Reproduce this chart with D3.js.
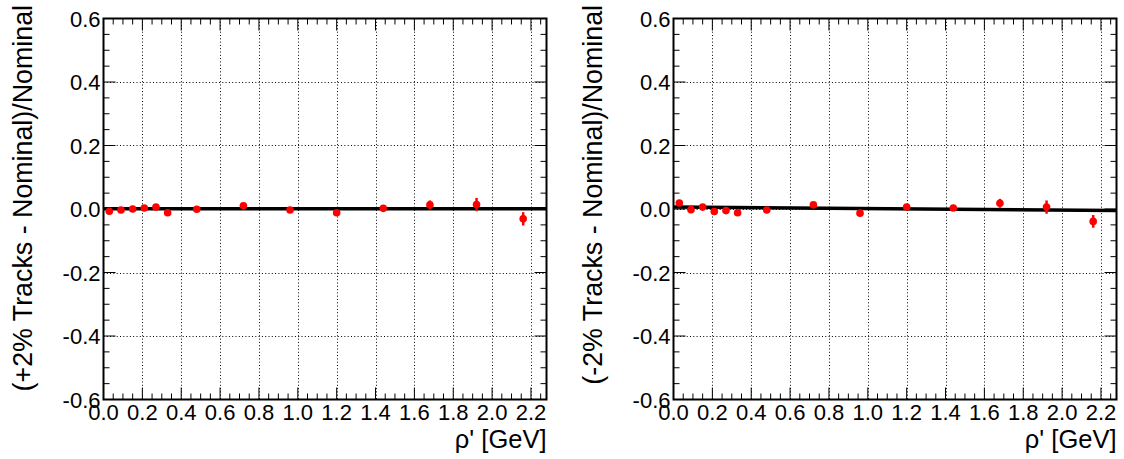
<!DOCTYPE html>
<html>
<head>
<meta charset="utf-8">
<script src="https://cdn.jsdelivr.net/npm/d3@7"></script>
<style>
  html, body { margin: 0; padding: 0; background: #fff; }
  svg { display: block; font-family: "Liberation Sans", Arial, sans-serif; }
</style>
</head>
<body>
<svg id="chart" width="1124" height="459"></svg>
<script>
// Bin centres of rho' (GeV)
const binCenters = [0.03, 0.09, 0.15, 0.21, 0.27, 0.33, 0.48, 0.72, 0.96, 1.20, 1.44, 1.68, 1.92, 2.16];

// +2% tracks variation: relative difference and uncertainty
const plusValues = [-0.007, -0.003, 0.000, 0.003, 0.006, -0.012, -0.001, 0.010, -0.003, -0.012, 0.002, 0.013, 0.014, -0.031];
const plusErrors = [0.004, 0.004, 0.004, 0.004, 0.005, 0.005, 0.004, 0.005, 0.005, 0.006, 0.008, 0.014, 0.021, 0.021];

// -2% tracks variation: relative difference and uncertainty
const minusValues = [0.019, -0.002, 0.006, -0.008, -0.005, -0.012, -0.003, 0.013, -0.013, 0.006, 0.003, 0.018, 0.006, -0.039];
const minusErrors = [0.005, 0.004, 0.004, 0.004, 0.005, 0.005, 0.004, 0.005, 0.005, 0.006, 0.008, 0.014, 0.021, 0.020];

// Linear fits: value at each end of the x range
const fitEnds = [0, 2.28];
const plusFit = [0.001, 0.0005];
const minusFit = [0.006, -0.005];

// Axis ticks
const xMajorTicks = [0.0, 0.2, 0.4, 0.6, 0.8, 1.0, 1.2, 1.4, 1.6, 1.8, 2.0, 2.2];
const yMajorTicks = [-0.6, -0.4, -0.2, 0.0, 0.2, 0.4, 0.6];

const xDomain = [0, 2.28];
const yDomain = [-0.6, 0.6];

const svg = d3.select("#chart");

const panels = [
  { left: 103.5, title: "(+2% Tracks - Nominal)/Nominal", values: plusValues, errors: plusErrors, fit: plusFit },
  { left: 673.5, title: "(-2% Tracks - Nominal)/Nominal", values: minusValues, errors: minusErrors, fit: minusFit }
];

const plotW = 443, plotTop = 18.5, plotBottom = 399.5;

panels.forEach(p => {
  const x = d3.scaleLinear().domain(xDomain).range([p.left, p.left + plotW]);
  const y = d3.scaleLinear().domain(yDomain).range([plotBottom, plotTop]);
  const g = svg.append("g");

  // dotted grid at major ticks
  g.append("g").selectAll("line").data(xMajorTicks.filter(v => v > 0)).join("line")
    .attr("x1", d => Math.round(x(d)) + 0.5).attr("x2", d => Math.round(x(d)) + 0.5)
    .attr("y1", plotTop).attr("y2", plotBottom)
    .attr("stroke", "#000").attr("stroke-width", 1).attr("stroke-dasharray", "1,2.3");
  g.append("g").selectAll("line").data(yMajorTicks.filter(v => v > -0.6 && v < 0.6)).join("line")
    .attr("x1", p.left).attr("x2", p.left + plotW)
    .attr("y1", d => Math.round(y(d)) + 0.5).attr("y2", d => Math.round(y(d)) + 0.5)
    .attr("stroke", "#000").attr("stroke-width", 1).attr("stroke-dasharray", "1,2.3");

  // inward ticks on all four sides
  const xMinor = d3.range(0, 2.2801, 0.05);
  const yMinor = d3.range(-0.6, 0.6001, 0.05);
  const isMajor = (v, list) => list.some(t => Math.abs(t - v) < 1e-6);
  const tickG = g.append("g").attr("stroke", "#000").attr("stroke-width", 1);
  xMinor.forEach(v => {
    const len = isMajor(v, xMajorTicks) ? 12 : 6;
    const px = x(v);
    tickG.append("line").attr("x1", px).attr("x2", px).attr("y1", plotBottom).attr("y2", plotBottom - len);
    tickG.append("line").attr("x1", px).attr("x2", px).attr("y1", plotTop).attr("y2", plotTop + len);
  });
  yMinor.forEach(v => {
    const len = isMajor(v, yMajorTicks) ? 12 : 6;
    const py = y(v);
    tickG.append("line").attr("x1", p.left).attr("x2", p.left + len).attr("y1", py).attr("y2", py);
    tickG.append("line").attr("x1", p.left + plotW).attr("x2", p.left + plotW - len).attr("y1", py).attr("y2", py);
  });

  // frame
  g.append("rect").attr("x", p.left).attr("y", plotTop).attr("width", plotW).attr("height", plotBottom - plotTop)
    .attr("fill", "none").attr("stroke", "#000").attr("stroke-width", 2);

  // tick labels
  g.append("g").selectAll("text").data(xMajorTicks).join("text")
    .attr("x", d => x(d)).attr("y", plotBottom + 20)
    .attr("text-anchor", "middle").attr("font-size", 22).attr("fill", "#000")
    .text(d => d3.format(".1f")(d));
  g.append("g").selectAll("text").data(yMajorTicks).join("text")
    .attr("x", p.left - 3).attr("y", d => y(d) + 8)
    .attr("text-anchor", "end").attr("font-size", 22).attr("fill", "#000")
    .text(d => d3.format(".1f")(d).replace("−", "-"));

  // axis titles
  g.append("text").attr("x", p.left + plotW).attr("y", plotBottom + 48)
    .attr("text-anchor", "end").attr("font-size", 25.5).attr("fill", "#000")
    .text("ρ' [GeV]");
  g.append("text")
    .attr("transform", `translate(${p.left - 72},${plotTop - 13.5}) rotate(-90)`)
    .attr("text-anchor", "end").attr("font-size", 26.8).attr("fill", "#000")
    .text(p.title);

  // fit line
  g.append("line")
    .attr("x1", x(fitEnds[0])).attr("x2", x(fitEnds[1]))
    .attr("y1", y(p.fit[0])).attr("y2", y(p.fit[1]))
    .attr("stroke", "#000").attr("stroke-width", 3.5);

  // error bars and markers
  const pts = binCenters.map((c, i) => ({ x: c, v: p.values[i], e: p.errors[i] }));
  g.append("g").selectAll("line").data(pts).join("line")
    .attr("x1", d => x(d.x)).attr("x2", d => x(d.x))
    .attr("y1", d => y(d.v - d.e)).attr("y2", d => y(d.v + d.e))
    .attr("stroke", "#ff0000").attr("stroke-width", 2.5);
  g.append("g").selectAll("circle").data(pts).join("circle")
    .attr("cx", d => x(d.x)).attr("cy", d => y(d.v)).attr("r", 3.8)
    .attr("fill", "#ff0000");
});
</script>
</body>
</html>
